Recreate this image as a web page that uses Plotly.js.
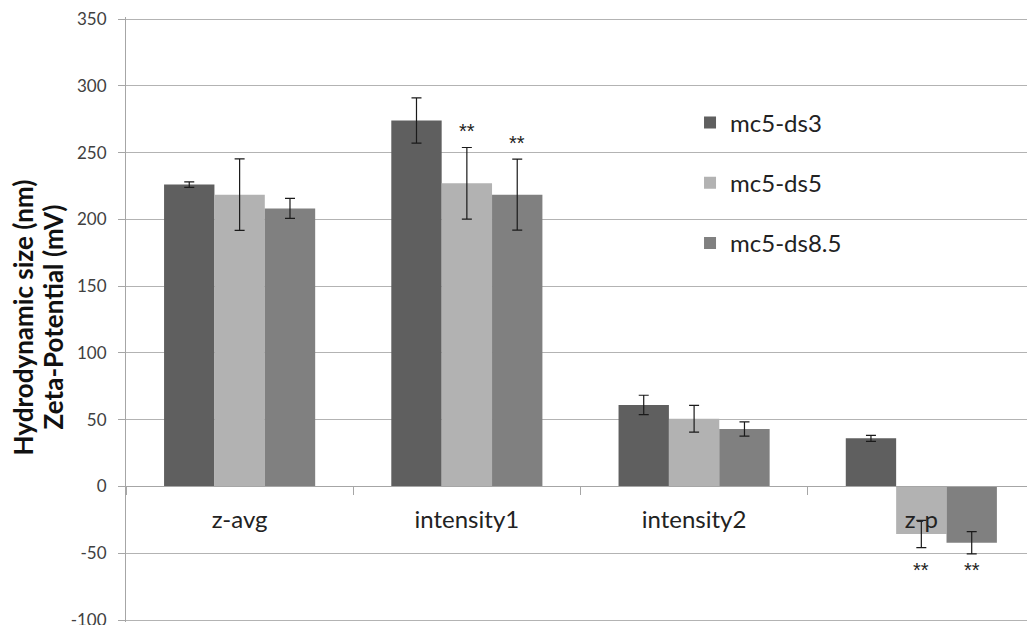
<!DOCTYPE html>
<html>
<head>
<meta charset="utf-8">
<script src="https://cdn.plot.ly/plotly-3.0.1.min.js"></script>
<style>html,body{margin:0;padding:0;background:#fff;}#chart{width:1027px;height:625px;}</style>
</head>
<body>
<div id="chart"></div>
<script>
var categories = ['z-avg', 'intensity1', 'intensity2', 'z-p'];
var seriesNames = ['mc5-ds3', 'mc5-ds5', 'mc5-ds8.5'];
var ds3Values = [226, 274, 61, 36];
var ds3Errors = [2, 17, 7.3, 2.3];
var ds5Values = [218.5, 227, 50.7, -35.6];
var ds5Errors = [26.8, 26.8, 10, 10.2];
var ds85Values = [208.2, 218.5, 43, -42.2];
var ds85Errors = [7.5, 26.6, 5.3, 8.3];
var seriesColors = ['#5f5f5f', '#b2b2b2', '#808080'];
var yTickValues = [-100, -50, 0, 50, 100, 150, 200, 250, 300, 350];
var yTickLabels = ['-100', '-50', '0', '50', '100', '150', '200', '250', '300', '350'];
var yTitleLines = ['Hydrodynamic size (nm)', 'Zeta-Potential (mV)'];
// significance marks: [category index, series index, label]
var sigMarks = [[1, 1, '**'], [1, 2, '**'], [3, 1, '**'], [3, 2, '**']];

var allValues = [ds3Values, ds5Values, ds85Values];
var allErrors = [ds3Errors, ds5Errors, ds85Errors];

var traces = seriesNames.map(function (name, i) {
  return {
    type: 'bar',
    name: name,
    x: categories,
    y: allValues[i],
    legendgroup: 'g' + i,
    marker: {color: seriesColors[i], line: {width: 0}},
    error_y: {type: 'data', array: allErrors[i], visible: true, color: '#1a1a1a', thickness: 1.2, width: 5}
  };
});

var yMin = -101.5, yMax = 351.5;
var barW = (1 - 0.335) / 3;
var annotations = sigMarks.map(function (m) {
  var v = allValues[m[1]][m[0]];
  var e = allErrors[m[1]][m[0]];
  var above = v >= 0;
  return {
    x: m[0] + (m[1] - 1) * barW,
    y: above ? v + e : -61,
    xref: 'x', yref: 'y',
    text: m[2],
    showarrow: false,
    yshift: above ? 16 : -2,
    font: {family: 'Liberation Sans, sans-serif', size: 20, color: '#222'}
  };
});
var titleX = [-0.1143, -0.081];
yTitleLines.forEach(function (t, i) {
  annotations.push({
    xref: 'paper', yref: 'paper', x: titleX[i], y: 0.5035,
    xanchor: 'center', yanchor: 'middle',
    text: '<b>' + t + '</b>', textangle: -90, showarrow: false,
    font: {family: 'Lato, sans-serif', size: 26, color: '#111'}
  });
});

var layout = {
  width: 1027, height: 625,
  margin: {l: 126, r: 0, t: 17, b: 3},
  paper_bgcolor: '#fff', plot_bgcolor: '#fff',
  barmode: 'group', bargap: 0.335, bargroupgap: 0,
  font: {family: 'Lato, sans-serif', color: '#333'},
  showlegend: true,
  legend: {
    x: 0.626, xanchor: 'left', y: 0.862, yanchor: 'top',
    font: {size: 24, color: '#222'},
    tracegroupgap: 26, bgcolor: 'rgba(0,0,0,0)'
  },
  xaxis: {
    type: 'category', categoryorder: 'array', categoryarray: categories,
    range: [-0.5, 3.465],
    anchor: 'free', position: (0 - yMin) / (yMax - yMin),
    showline: true, linecolor: '#a6a6a6', linewidth: 1,
    ticks: 'outside', tickson: 'boundaries', ticklen: 8, tickcolor: '#a6a6a6',
    ticklabelstandoff: 12,
    tickfont: {size: 24, color: '#222'},
    showgrid: false, zeroline: false
  },
  yaxis: {
    range: [yMin, yMax],
    tickmode: 'array', tickvals: yTickValues, ticktext: yTickLabels,
    showline: true, linecolor: '#a6a6a6', linewidth: 1,
    ticks: 'outside', ticklen: 7, tickcolor: '#a6a6a6',
    ticklabelstandoff: 8,
    ticklabeloverflow: 'allow',
    tickfont: {size: 17, color: '#404040'},
    showgrid: true, gridcolor: '#b3b3b3', gridwidth: 1,
    zeroline: false
  },
  annotations: annotations
};

Plotly.newPlot('chart', traces, layout, {displayModeBar: false, staticPlot: true});
</script>
</body>
</html>
